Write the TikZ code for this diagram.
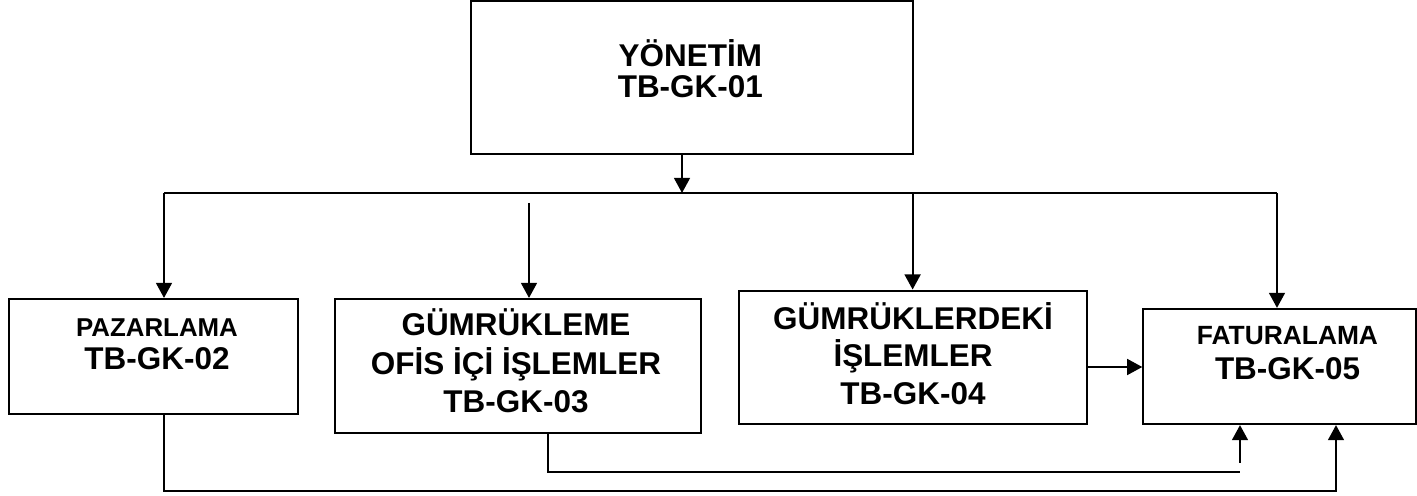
\documentclass[tikz,border=0pt]{standalone}
\usepackage{fontspec}
\setmainfont{Liberation Sans}
\usepackage{tikz}
\usetikzlibrary{arrows.meta}
\def\lw{1.25pt}
\tikzset{
	kutu/.style={draw, line width=\lw, rectangle, inner sep=0pt},
	yazi/.style={align=center, inner sep=0pt},
	ok/.style={-{Triangle[width=9pt,length=8.6pt]}, line width=\lw},
	hat/.style={line width=\lw}
}

\begin{document}
\begin{tikzpicture}[x=0.02cm, y=-0.02cm]
	\useasboundingbox (0,0) rectangle (1417,496);
	% kutular
	\node[kutu, minimum width=8.84cm, minimum height=3.06cm] (yon) at (691.7,77.5) {};
	\node[kutu, minimum width=5.78cm, minimum height=2.306cm] (paz) at (153.8,356.7) {};
	\node[kutu, minimum width=7.32cm, minimum height=2.674cm] (gum3) at (518,365.9) {};
	\node[kutu, minimum width=6.948cm, minimum height=2.666cm] (gum4) at (913,357.3) {};
	\node[kutu, minimum width=5.454cm, minimum height=2.3cm] (fat) at (1279.7,366.5) {};
	% yazilar
	\node[yazi, font=\bfseries\fontsize{17.9}{17.8}\selectfont] (yont) at (690.3,68.4) {YÖNETİM\\TB-GK-01};
	\node[yazi, font=\bfseries\fontsize{17.9}{19}\selectfont] (pazt) at (157,344.1) {{\fontsize{14.7}{19}\selectfont PAZARLAMA}\\TB-GK-02};
	\node[yazi, font=\bfseries\fontsize{17.9}{21.8}\selectfont] (gum3t) at (516,360.9) {GÜMRÜKLEME\\OFİS İÇİ İŞLEMLER\\TB-GK-03};
	\node[yazi, font=\bfseries\fontsize{17.9}{21.3}\selectfont] (gum4t) at (913,353.4) {GÜMRÜKLERDEKİ\\İŞLEMLER\\TB-GK-04};
	\node[yazi, font=\bfseries\fontsize{17.9}{19.9}\selectfont] (fatt) at (1287.5,353) {{\fontsize{15}{19.9}\selectfont FATURALAMA}\\TB-GK-05};
	% baglantilar
	\coordinate (busL) at (164,193);
	\coordinate (busM) at (682,193);
	\coordinate (busR) at (1277,193);
	\coordinate (g3ust) at (529,203);
	\coordinate (g4ust) at (912.6,193);
	\coordinate (oky) at (0,367);
	\coordinate (g3x) at (548,0);
	\coordinate (alt1) at (1240,472);
	\coordinate (alt1u) at (1240,463);
	\coordinate (alt2) at (1336,491);
	\draw[ok] (yon.south -| busM) -- (busM);
	\draw[hat] (busL) -- (busR);
	\draw[ok] (busL) -- (paz.north -| busL);
	\draw[ok] (g3ust) -- (gum3.north -| g3ust);
	\draw[ok] (g4ust) -- (gum4.north -| g4ust);
	\draw[ok] (busR) -- (fat.north -| busR);
	\draw[ok] (gum4.east |- oky) -- (fat.west |- oky);
	\draw[hat] (gum3.south -| g3x) |- (alt1);
	\draw[ok] (alt1u) -- (fat.south -| alt1u);
	\draw[ok] (paz.south -| busL) |- (alt2) -- (fat.south -| alt2);
\end{tikzpicture}
\end{document}
